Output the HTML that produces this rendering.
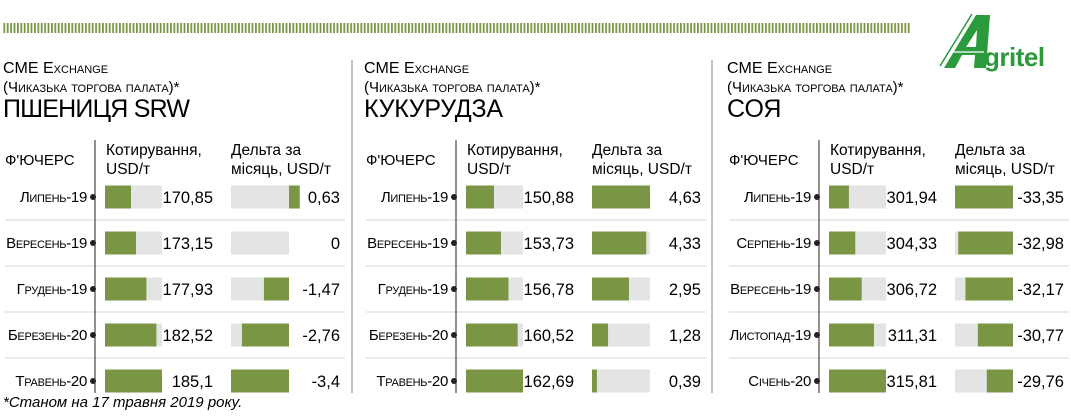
<!DOCTYPE html>
<html><head><meta charset="utf-8"><style>
body{margin:0;width:1071px;height:417px;background:#fff;overflow:hidden;font-family:"Liberation Sans","Noto Sans CJK SC",sans-serif;color:#222}
</style></head><body>
<svg id="c" width="1071" height="417" style="position:absolute;left:0;top:0;font-family:'Liberation Sans',sans-serif">
<defs><pattern id="dash" width="3.4" height="10" patternUnits="userSpaceOnUse"><rect width="1.8" height="10" fill="#7a9645"/></pattern></defs>
<rect x="3" y="23" width="908" height="10" fill="url(#dash)"/>
<g>
<polygon points="944,68 976,15 990,15 986,68 974,68 975,55 962,55 955,68" fill="#2a9a3c"/>
<polygon points="966,47 976,47 977,30" fill="#fff"/>
<line x1="940" y1="66" x2="972" y2="14" stroke="#2a9a3c" stroke-width="1.5"/>
<line x1="952" y1="52" x2="984" y2="52" stroke="#fff" stroke-width="1.2"/>
<text x="984" y="66" font-size="26" font-weight="bold" fill="#2a9a3c" letter-spacing="-0.5">gritel</text>
</g>
<text x="3" y="407" font-size="15" font-style="italic">*Станом на 17 травня 2019 року.</text>
</svg>
<script>
const titles=["ПШЕНИЦЯ SRW","КУКУРУДЗА","СОЯ"];
const wheatMonths=["Липень-19","Вересень-19","Грудень-19","Березень-20","Травень-20"];
const cornMonths=["Липень-19","Вересень-19","Грудень-19","Березень-20","Травень-20"];
const soyMonths=["Липень-19","Серпень-19","Вересень-19","Листопад-19","Січень-20"];
const wheatQuotes=[170.85,173.15,177.93,182.52,185.1];
const cornQuotes=[150.88,153.73,156.78,160.52,162.69];
const soyQuotes=[301.94,304.33,306.72,311.31,315.81];
const wheatDeltas=[0.63,0,-1.47,-2.76,-3.4];
const cornDeltas=[4.63,4.33,2.95,1.28,0.39];
const soyDeltas=[-33.35,-32.98,-32.17,-30.77,-29.76];
const quoteLabels=[["170,85","173,15","177,93","182,52","185,1"],["150,88","153,73","156,78","160,52","162,69"],["301,94","304,33","306,72","311,31","315,81"]];
const deltaLabels=[["0,63","0","-1,47","-2,76","-3,4"],["4,63","4,33","2,95","1,28","0,39"],["-33,35","-32,98","-32,17","-30,77","-29,76"]];
const quoteMin=[158.9,139.5,294.5];
const deltaMin=[0,0,26.8];

const svg=document.getElementById('c');
const NS="http://www.w3.org/2000/svg";
function mk(t,a,p){const e=document.createElementNS(NS,t);for(const k in a)e.setAttribute(k,a[k]);(p||svg).appendChild(e);return e;}
const months=[wheatMonths,cornMonths,soyMonths],quotes=[wheatQuotes,cornQuotes,soyQuotes],deltas=[wheatDeltas,cornDeltas,soyDeltas];
const offs=[0,361,724];
const BW=57,DW=58,rowY=i=>197+i*46;
[352,712].forEach(x=>{const l=mk('line',{x1:x,y1:60,x2:x,y2:393,stroke:'#999','stroke-width':1.2});

});
for(let p=0;p<3;p++){
 const o=offs[p];
 const g=mk('g',{});
 
 
 const t1=mk('text',{x:o+3,y:73,'font-size':16,'font-variant':'small-caps'},g);t1.textContent='CME Exchange';
 
 
 const t2=mk('text',{x:o+3,y:92,'font-size':15,'font-variant':'small-caps'},g);t2.textContent='(Чиказька торгова палата)*';
 
 
 const t3=mk('text',{x:o+3,y:117,'font-size':25,textLength:titles[p].length>5?(p===0?187:(p===1?139:0)):0},g);t3.textContent=titles[p];
 if(p===2)t3.removeAttribute('textLength');
 
 
 const h1=mk('text',{x:o+5,y:165,'font-size':15},g);h1.textContent="Ф'ЮЧЕРС";
 
 
 const h2=mk('text',{x:o+106,y:155,'font-size':15.5},g);h2.innerHTML='<tspan x="'+(o+106)+'">Котирування,</tspan><tspan x="'+(o+106)+'" dy="19">USD/т</tspan>';
 
 
 const h3=mk('text',{x:o+231,y:155,'font-size':15.5},g);h3.innerHTML='<tspan x="'+(o+231)+'">Дельта за</tspan><tspan x="'+(o+231)+'" dy="19">місяць, USD/т</tspan>';
 
 
 for(let i=1;i<5;i++){const s=mk('line',{x1:o+5,x2:o+345,y1:rowY(i)-23,y2:rowY(i)-23,stroke:'#d6d6d6','stroke-width':1},g);
  
  }
 const vl=mk('line',{x1:o+95,x2:o+95,y1:140,y2:393,stroke:'#222','stroke-width':1},g);
 
 
 const qmax=Math.max(...quotes[p]);
 const dAbs=deltas[p].map(Math.abs),dmax=Math.max(...dAbs);
 for(let i=0;i<5;i++){
  const y=rowY(i);
  const lb=mk('text',{x:o+87,y:y+5,'font-size':15,'text-anchor':'end','font-variant':'small-caps','letter-spacing':'-0.3'},g);lb.textContent=months[p][i];
  
  
  const d=mk('circle',{cx:o+93,cy:y,r:3,fill:'#222'},g);
  
  
  const qb=mk('rect',{x:o+105,y:y-11.5,width:BW,height:23,fill:'#e4e4e4'},g);
  
  
  const qw=BW*(quotes[p][i]-quoteMin[p])/(qmax-quoteMin[p]);
  const qf=mk('rect',{x:o+105,y:y-11.5,width:qw,height:23,fill:'#7a9645'},g);
  
  
  const qv=mk('text',{x:o+213,y:y+6,'font-size':16.5,'text-anchor':'end'},g);qv.textContent=quoteLabels[p][i];
  
  
  const db=mk('rect',{x:o+231,y:y-11.5,width:DW,height:23,fill:'#e4e4e4'},g);
  
  
  const v=deltas[p][i];
  let scale=DW/(dmax-deltaMin[p]);
  if(p===0) scale=DW/Math.max(...deltas[p].filter(x=>x<0).map(Math.abs));
  const w=Math.max(0,(Math.abs(v)-deltaMin[p]))*scale;
  let x;
  if(p===1) x=o+231;
  else if(v>=0) x=o+231+DW;
  else x=o+231+DW-w;
  if(v!==0){const df=mk('rect',{x:x,y:y-11.5,width:w,height:23,fill:'#7a9645'},g);
   
   }
  const dv=mk('text',{x:o+340,y:y+6,'font-size':16.5,'text-anchor':'end'},g);dv.textContent=deltaLabels[p][i];
  
  
 }
}
</script>
</body></html>
